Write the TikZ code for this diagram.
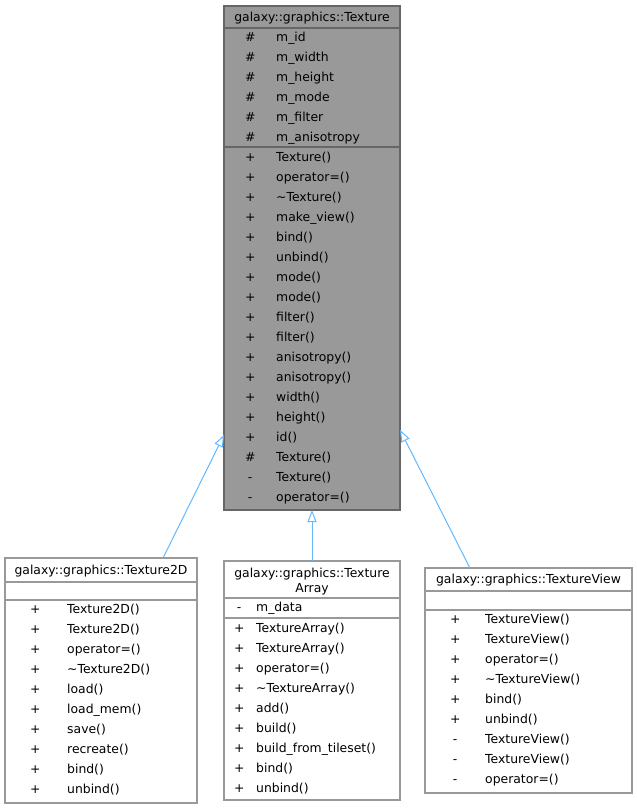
\documentclass[tikz,border=0pt]{standalone}
\usepackage{fontspec}
\setmainfont{DejaVu Sans}
\usepackage{xcolor}
\usetikzlibrary{arrows.meta,calc}

\definecolor{basefill}{HTML}{999999}
\definecolor{baseline}{HTML}{666666}
\definecolor{boxline}{HTML}{999999}
\definecolor{edgeblue}{HTML}{63B8FF}

% one member row: visibility sign centred in a fixed width, then the name
\newcommand{\mem}[3]{\makebox[#1pt][c]{#2}#3}

\tikzset{
	classbox/.style={draw=boxline, fill=white, line width=1.2pt, inner sep=0pt, outer sep=0pt},
	basebox/.style={classbox, draw=baseline, fill=basefill},
	title/.style={inner sep=0pt, text height=9pt, text depth=0pt},
	member/.style={anchor=west, inner sep=0pt, text height=9pt, text depth=0pt},
	inherit/.style={draw=edgeblue, line width=1pt, -{Triangle[open, length=12pt, width=9pt]}}
}

\begin{document}
\begin{tikzpicture}[x=1pt, y=-1pt, font=\fontsize{12.4}{15}\selectfont]
				\useasboundingbox (0,0) rectangle (637,809);

				% class boxes
				\node[basebox, minimum width=176pt, minimum height=504pt] (tex) at (312,258) {};
				\node[classbox, minimum width=192pt, minimum height=245pt] (t2d) at (101,680.5) {};
				\node[classbox, minimum width=176pt, minimum height=239pt] (tarr) at (312,680.5) {};
				\node[classbox, minimum width=207pt, minimum height=225pt] (tview) at (528.5,680.5) {};

				% compartment lines
				\draw[draw=baseline, line width=1.2pt] ([yshift=-22pt]tex.north west) -- ([yshift=-22pt]tex.north east);
				\draw[draw=baseline, line width=1.2pt] ([yshift=-141pt]tex.north west) -- ([yshift=-141pt]tex.north east);
				\draw[draw=boxline, line width=1.2pt] ([yshift=-24pt]t2d.north west) -- ([yshift=-24pt]t2d.north east);
				\draw[draw=boxline, line width=1.2pt] ([yshift=-42pt]t2d.north west) -- ([yshift=-42pt]t2d.north east);
				\draw[draw=boxline, line width=1.2pt] ([yshift=-37pt]tarr.north west) -- ([yshift=-37pt]tarr.north east);
				\draw[draw=boxline, line width=1.2pt] ([yshift=-57pt]tarr.north west) -- ([yshift=-57pt]tarr.north east);
				\draw[draw=boxline, line width=1.2pt] ([yshift=-23pt]tview.north west) -- ([yshift=-23pt]tview.north east);
				\draw[draw=boxline, line width=1.2pt] ([yshift=-42pt]tview.north west) -- ([yshift=-42pt]tview.north east);

				% galaxy::graphics::Texture
				\node[title] (textitle) at (312,17) {galaxy::graphics::Texture};
				\node[member] (texa1) at (224,37) {\mem{52}{\#}{m\_id}};
				\node[member] (texa2) at (224,57) {\mem{52}{\#}{m\_width}};
				\node[member] (texa3) at (224,77) {\mem{52}{\#}{m\_height}};
				\node[member] (texa4) at (224,97) {\mem{52}{\#}{m\_mode}};
				\node[member] (texa5) at (224,117) {\mem{52}{\#}{m\_filter}};
				\node[member] (texa6) at (224,137) {\mem{52}{\#}{m\_anisotropy}};
				\node[member] (texm1) at (224,157) {\mem{52}{+}{Texture()}};
				\node[member] (texm2) at (224,177) {\mem{52}{+}{operator=()}};
				\node[member] (texm3) at (224,197) {\mem{52}{+}{\textasciitilde Texture()}};
				\node[member] (texm4) at (224,217) {\mem{52}{+}{make\_view()}};
				\node[member] (texm5) at (224,237) {\mem{52}{+}{bind()}};
				\node[member] (texm6) at (224,257) {\mem{52}{+}{unbind()}};
				\node[member] (texm7) at (224,277) {\mem{52}{+}{mode()}};
				\node[member] (texm8) at (224,297) {\mem{52}{+}{mode()}};
				\node[member] (texm9) at (224,317) {\mem{52}{+}{filter()}};
				\node[member] (texm10) at (224,337) {\mem{52}{+}{filter()}};
				\node[member] (texm11) at (224,357) {\mem{52}{+}{anisotropy()}};
				\node[member] (texm12) at (224,377) {\mem{52}{+}{anisotropy()}};
				\node[member] (texm13) at (224,397) {\mem{52}{+}{width()}};
				\node[member] (texm14) at (224,417) {\mem{52}{+}{height()}};
				\node[member] (texm15) at (224,437) {\mem{52}{+}{id()}};
				\node[member] (texm16) at (224,457) {\mem{52}{\#}{Texture()}};
				\node[member] (texm17) at (224,477) {\mem{52}{-}{Texture()}};
				\node[member] (texm18) at (224,497) {\mem{52}{-}{operator=()}};

				% galaxy::graphics::Texture2D
				\node[title] (t2dtitle) at (101,570) {galaxy::graphics::Texture2D};
				\node[member] (t2dm1) at (3,609) {\mem{64}{+}{Texture2D()}};
				\node[member] (t2dm2) at (3,629) {\mem{64}{+}{Texture2D()}};
				\node[member] (t2dm3) at (3,649) {\mem{64}{+}{operator=()}};
				\node[member] (t2dm4) at (3,669) {\mem{64}{+}{\textasciitilde Texture2D()}};
				\node[member] (t2dm5) at (3,689) {\mem{64}{+}{load()}};
				\node[member] (t2dm6) at (3,709) {\mem{64}{+}{load\_mem()}};
				\node[member] (t2dm7) at (3,729) {\mem{64}{+}{save()}};
				\node[member] (t2dm8) at (3,749) {\mem{64}{+}{recreate()}};
				\node[member] (t2dm9) at (3,769) {\mem{64}{+}{bind()}};
				\node[member] (t2dm10) at (3,789) {\mem{64}{+}{unbind()}};

				% galaxy::graphics::TextureArray
				\node[title] (tarrtitle1) at (312,573) {galaxy::graphics::Texture};
				\node[title] (tarrtitle2) at (312,588) {Array};
				\node[member] (tarra1) at (222,607) {\mem{34}{-}{m\_data}};
				\node[member] (tarrm1) at (222,628) {\mem{34}{+}{TextureArray()}};
				\node[member] (tarrm2) at (222,648) {\mem{34}{+}{TextureArray()}};
				\node[member] (tarrm3) at (222,668) {\mem{34}{+}{operator=()}};
				\node[member] (tarrm4) at (222,688) {\mem{34}{+}{\textasciitilde TextureArray()}};
				\node[member] (tarrm5) at (222,708) {\mem{34}{+}{add()}};
				\node[member] (tarrm6) at (222,728) {\mem{34}{+}{build()}};
				\node[member] (tarrm7) at (222,748) {\mem{34}{+}{build\_from\_tileset()}};
				\node[member] (tarrm8) at (222,768) {\mem{34}{+}{bind()}};
				\node[member] (tarrm9) at (222,788) {\mem{34}{+}{unbind()}};

				% galaxy::graphics::TextureView
				\node[title] (tviewtitle) at (528.5,579) {galaxy::graphics::TextureView};
				\node[member] (tviewm1) at (425,619) {\mem{60}{+}{TextureView()}};
				\node[member] (tviewm2) at (425,639) {\mem{60}{+}{TextureView()}};
				\node[member] (tviewm3) at (425,659) {\mem{60}{+}{operator=()}};
				\node[member] (tviewm4) at (425,679) {\mem{60}{+}{\textasciitilde TextureView()}};
				\node[member] (tviewm5) at (425,699) {\mem{60}{+}{bind()}};
				\node[member] (tviewm6) at (425,719) {\mem{60}{+}{unbind()}};
				\node[member] (tviewm7) at (425,739) {\mem{60}{-}{TextureView()}};
				\node[member] (tviewm8) at (425,759) {\mem{60}{-}{TextureView()}};
				\node[member] (tviewm9) at (425,779) {\mem{60}{-}{operator=()}};

				% inheritance
				\coordinate (t2dup) at ($(t2d.north west)!0.823!(t2d.north east)$);
				\coordinate (texleft) at ($(tex.north west)!0.851!(tex.south west)$);
				\coordinate (tviewup) at ($(tview.north west)!0.217!(tview.north east)$);
				\coordinate (texright) at ($(tex.north east)!0.841!(tex.south east)$);
				\draw[inherit] (t2dup) -- (texleft);
				\draw[inherit] (tarr.north) -- (tex.south);
				\draw[inherit] (tviewup) -- (texright);
			\end{tikzpicture}
\end{document}
